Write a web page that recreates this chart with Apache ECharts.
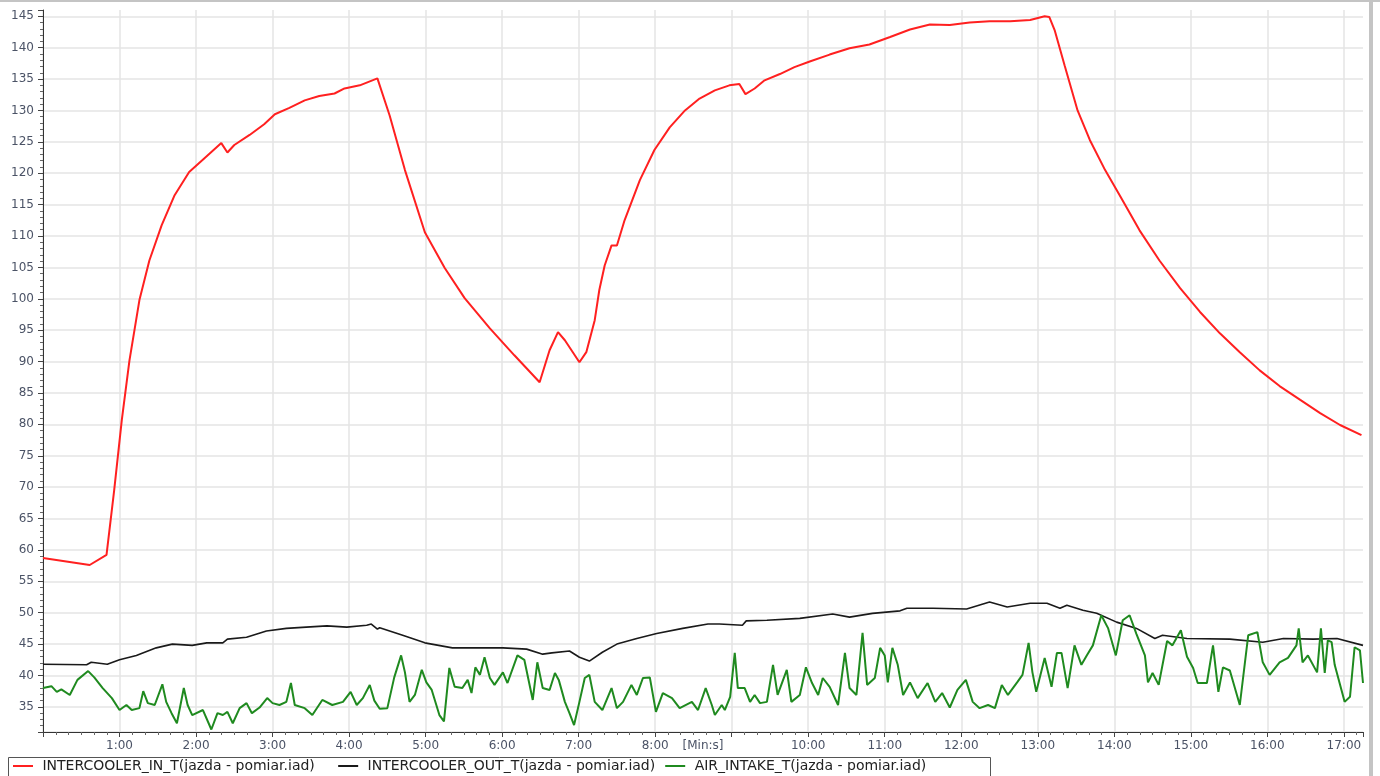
<!DOCTYPE html>
<html>
<head>
<meta charset="utf-8">
<script src="https://cdn.jsdelivr.net/npm/echarts@6/dist/echarts.min.js"></script>
<style>
html,body{margin:0;padding:0;background:#fff;}
#chart{width:1380px;height:776px;}
</style>
</head>
<body>
<div id="chart"></div>
<script>
// Time in minutes
const seriesNames = [
  'INTERCOOLER_IN_T(jazda - pomiar.iad)',
  'INTERCOOLER_OUT_T(jazda - pomiar.iad)',
  'AIR_INTAKE_T(jazda - pomiar.iad)'
];

const inTime = [0,0.61,0.83,0.93,1.03,1.13,1.26,1.39,1.55,1.72,1.91,2.11,2.33,2.41,2.50,2.70,2.89,3.03,3.22,3.42,3.61,3.81,3.94,4.14,4.37,4.53,4.73,4.99,5.25,5.51,5.84,6.16,6.49,6.62,6.73,6.82,7.01,7.10,7.21,7.27,7.34,7.43,7.50,7.60,7.80,7.99,8.19,8.39,8.58,8.78,8.97,9.10,9.18,9.30,9.43,9.63,9.82,10.02,10.28,10.54,10.80,11.07,11.33,11.59,11.85,12.11,12.37,12.64,12.90,13.09,13.15,13.22,13.35,13.52,13.68,13.88,14.07,14.33,14.59,14.86,15.12,15.38,15.64,15.90,16.16,16.43,16.69,16.95,17.23];
const inTemp = [58.7,57.6,59.2,69.5,80.7,90.2,99.8,106.1,111.7,116.5,120.2,122.4,124.8,123.3,124.5,126.1,127.8,129.4,130.4,131.6,132.3,132.7,133.5,134.0,135.1,129.2,120.5,110.6,104.9,100.1,95.3,91.0,86.7,91.8,94.7,93.4,89.9,91.5,96.6,101.4,105.3,108.5,108.5,112.5,118.9,123.7,127.3,130.0,131.9,133.2,134.0,134.2,132.6,133.5,134.8,135.8,136.9,137.8,138.9,139.9,140.5,141.7,142.9,143.7,143.6,144.0,144.2,144.2,144.4,145.0,144.9,142.8,137.2,130.0,125.3,120.5,116.5,110.9,106.1,101.7,97.9,94.5,91.5,88.6,86.1,83.9,81.8,79.9,78.3];

const outTime = [0,0.57,0.63,0.84,1.00,1.22,1.48,1.69,1.95,2.14,2.35,2.41,2.66,2.92,3.18,3.44,3.71,3.97,4.23,4.29,4.37,4.40,4.70,4.99,5.35,6.01,6.32,6.53,6.65,6.88,7.01,7.14,7.31,7.50,7.76,8.02,8.36,8.69,8.84,9.14,9.19,9.46,9.89,10.32,10.54,10.84,11.20,11.29,11.63,12.07,12.37,12.60,12.90,13.12,13.29,13.38,13.59,13.77,14.03,14.29,14.53,14.63,14.95,15.51,15.94,16.21,16.60,16.91,17.25];
const outTemp = [41.8,41.7,42.1,41.8,42.5,43.2,44.4,45.0,44.8,45.2,45.2,45.8,46.1,47.1,47.5,47.7,47.9,47.7,48.0,48.2,47.4,47.6,46.4,45.2,44.4,44.4,44.2,43.4,43.6,43.9,42.9,42.3,43.7,45.0,45.9,46.7,47.5,48.2,48.2,48.0,48.7,48.8,49.1,49.8,49.3,49.9,50.3,50.7,50.7,50.6,51.7,50.9,51.5,51.5,50.7,51.2,50.4,49.9,48.5,47.5,45.9,46.4,45.9,45.8,45.3,45.9,45.8,45.9,44.8];

const airTime = [0,0.11,0.18,0.24,0.35,0.45,0.59,0.67,0.78,0.90,1.00,1.09,1.16,1.26,1.31,1.37,1.46,1.56,1.61,1.68,1.75,1.84,1.89,1.95,2.09,2.20,2.28,2.35,2.41,2.48,2.57,2.66,2.73,2.83,2.93,3.00,3.09,3.18,3.24,3.29,3.42,3.52,3.65,3.78,3.92,4.02,4.10,4.18,4.27,4.33,4.40,4.50,4.59,4.68,4.73,4.79,4.86,4.95,5.01,5.08,5.18,5.24,5.31,5.38,5.48,5.55,5.60,5.65,5.71,5.77,5.84,5.90,6.01,6.07,6.20,6.29,6.40,6.46,6.53,6.62,6.69,6.74,6.82,6.88,6.94,7.01,7.08,7.14,7.21,7.31,7.43,7.50,7.58,7.69,7.76,7.84,7.93,8.01,8.10,8.22,8.32,8.48,8.56,8.66,8.74,8.78,8.87,8.91,8.98,9.04,9.08,9.17,9.24,9.30,9.37,9.46,9.54,9.60,9.72,9.78,9.89,9.97,10.05,10.13,10.19,10.28,10.39,10.48,10.54,10.63,10.71,10.77,10.87,10.94,11.00,11.04,11.10,11.17,11.24,11.33,11.43,11.56,11.66,11.75,11.85,11.95,12.06,12.15,12.24,12.35,12.44,12.53,12.61,12.73,12.80,12.88,12.93,12.98,13.09,13.18,13.25,13.31,13.39,13.48,13.57,13.64,13.72,13.83,13.92,14.02,14.11,14.20,14.29,14.40,14.44,14.50,14.58,14.69,14.76,14.87,14.95,15.03,15.09,15.21,15.29,15.36,15.42,15.51,15.64,15.75,15.87,15.94,16.03,16.16,16.27,16.38,16.41,16.46,16.53,16.65,16.70,16.75,16.79,16.84,16.88,17.01,17.08,17.14,17.21,17.25];
const airTemp = [38.0,38.3,37.4,37.8,36.9,39.3,40.7,39.7,38.0,36.4,34.5,35.3,34.5,34.8,37.5,35.6,35.3,38.6,35.8,34.0,32.4,38.0,35.3,33.7,34.5,31.4,34.0,33.7,34.2,32.4,34.8,35.6,34.0,34.9,36.4,35.6,35.3,35.8,38.8,35.3,34.8,33.7,36.1,35.3,35.8,37.4,35.3,36.4,38.5,36.0,34.7,34.8,39.7,43.2,40.5,35.8,36.9,40.9,38.9,37.7,33.7,32.7,41.2,38.2,38.0,39.3,37.2,41.3,40.1,42.9,39.6,38.5,40.5,38.8,43.2,42.5,36.1,42.1,38.0,37.7,40.4,39.3,35.8,34.0,32.1,35.8,39.6,40.1,35.8,34.5,38.0,34.8,35.8,38.5,36.9,39.6,39.7,34.2,37.2,36.4,34.8,35.8,34.5,38.0,35.3,33.7,35.3,34.5,36.6,43.6,38.0,38.0,35.8,36.9,35.6,35.8,41.7,36.9,40.9,35.8,36.9,41.3,38.8,36.9,39.6,38.2,35.3,43.6,38.0,36.9,46.8,38.5,39.6,44.4,43.2,38.9,44.4,41.7,36.9,38.9,36.4,38.8,35.8,37.2,34.9,37.7,39.3,35.8,34.8,35.3,34.8,38.5,36.9,38.9,40.1,45.2,40.5,37.4,42.8,38.2,43.6,43.6,38.0,44.8,41.7,43.2,44.8,49.6,47.5,43.2,48.8,49.6,46.6,43.2,38.9,40.4,38.5,45.5,44.8,47.2,43.0,41.2,38.8,38.8,44.8,37.4,41.3,40.8,35.3,46.4,46.9,42.1,40.1,42.1,42.8,44.8,47.5,42.1,43.2,40.5,47.5,40.4,45.6,45.3,41.7,35.8,36.6,44.5,44.0,38.8];

const zip = (t, v) => t.map((x, i) => [x, v[i]]);

const chart = echarts.init(document.getElementById('chart'), null, {renderer: 'canvas'});
const labelColor = '#4b5366';
const font = 'DejaVu Sans';

chart.setOption({
  animation: false,
  backgroundColor: '#ffffff',
  grid: {left: 43, right: 17, top: 10, bottom: 44, containLabel: false},
  xAxis: {
    type: 'value',
    min: 0,
    max: 17.25,
    interval: 1,
    name: '[Min:s]',
    nameLocation: 'middle',
    nameGap: 8,
    nameMoveOverlap: false,
    nameTextStyle: {color: labelColor, fontFamily: font, fontSize: 12, verticalAlign: 'top'},
    axisLine: {show: true, lineStyle: {color: '#333', width: 1}},
    axisTick: {show: true, length: 5, lineStyle: {color: '#444'}},
    minorTick: {show: true, splitNumber: 6, length: 3, lineStyle: {color: '#666'}},
    axisLabel: {
      color: labelColor, fontFamily: font, fontSize: 12, margin: 8,
      formatter: v => (Math.abs(v - Math.round(v)) < 1e-6 && v > 0 && Math.round(v) !== 9) ? Math.round(v) + ':00' : ''
    },
    splitLine: {show: true, showMaxLine: false, lineStyle: {color: '#e4e4e4', width: 1.5}}
  },
  yAxis: {
    type: 'value',
    min: 31,
    max: 146,
    splitNumber: 23,
    axisLine: {show: true, lineStyle: {color: '#333', width: 1}},
    axisTick: {show: true, length: 5, lineStyle: {color: '#444'}},
    minorTick: {show: true, splitNumber: 5, length: 3, lineStyle: {color: '#666'}},
    axisLabel: {
      color: labelColor, fontFamily: font, fontSize: 12, margin: 9,
      formatter: v => (v % 5 === 0) ? String(v) : ''
    },
    splitLine: {show: true, showMaxLine: false, lineStyle: {color: '#e4e4e4', width: 1.5}}
  },
  legend: {
    left: 13,
    top: 759,
    padding: 0,
    icon: 'rect',
    itemWidth: 20,
    itemHeight: 2,
    itemGap: 10,
    textStyle: {fontFamily: font, fontSize: 14, color: '#222'},
    formatter: name => (name === seriesNames[0] ? ' ' + name + '   ' : ' ' + name),
    data: seriesNames
  },
  graphic: [
    {type: 'rect', shape: {x: 8.5, y: 757.5, width: 982, height: 30}, style: {fill: 'none', stroke: '#555', lineWidth: 1}, silent: true},
    {type: 'rect', shape: {x: 0, y: 0, width: 1380, height: 2}, style: {fill: '#c4c4c4'}, silent: true},
    {type: 'rect', shape: {x: 1369, y: 0, width: 4, height: 776}, style: {fill: '#c4c4c4'}, silent: true}
  ],
  series: [
    {name: seriesNames[0], type: 'line', data: zip(inTime, inTemp), showSymbol: false, symbol: 'none', lineStyle: {color: '#ff2020', width: 2}, itemStyle: {color: '#ff2020'}, z: 3},
    {name: seriesNames[1], type: 'line', data: zip(outTime, outTemp), showSymbol: false, symbol: 'none', lineStyle: {color: '#1a1a1a', width: 1.6}, itemStyle: {color: '#1a1a1a'}, z: 2},
    {name: seriesNames[2], type: 'line', data: zip(airTime, airTemp), showSymbol: false, symbol: 'none', lineStyle: {color: '#1f8a1f', width: 2}, itemStyle: {color: '#1f8a1f'}, z: 2}
  ]
});
</script>
</body>
</html>
